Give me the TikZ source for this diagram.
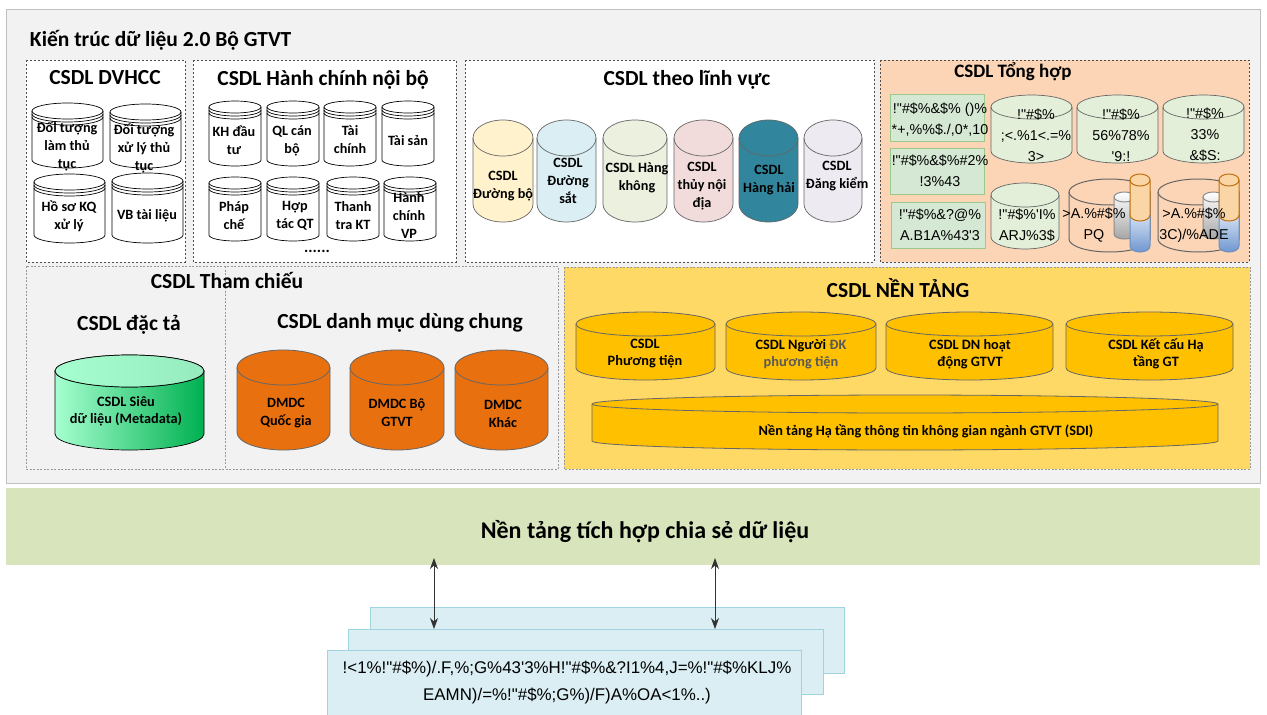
\documentclass[tikz,border=0pt]{standalone}
\usepackage{fontspec}
\setmainfont{Carlito}
\newfontfamily\garbfont{Liberation Sans}
\usetikzlibrary{arrows.meta}
\definecolor{panelgray}{HTML}{F2F2F2}
\definecolor{peach}{HTML}{FBD5B5}
\definecolor{band}{HTML}{D7E4BC}
\definecolor{softgreen}{HTML}{E3EFD9}
\definecolor{rectgreen}{HTML}{D5E8D4}
\definecolor{rectedge}{HTML}{9CC98A}
\definecolor{platform}{HTML}{FFD966}
\definecolor{gold}{HTML}{FFC000}
\definecolor{dmdc}{HTML}{E9700F}
\definecolor{stackfill}{HTML}{DAEEF3}
\definecolor{stackedge}{HTML}{9FD3E0}
\definecolor{miniorange}{HTML}{FAD5A5}
\definecolor{miniedge}{HTML}{C07010}
\definecolor{miniblue}{HTML}{6F97D0}
\definecolor{minibluee}{HTML}{6C8EBF}
\definecolor{metaL}{HTML}{A6FFD0}
\definecolor{metaM}{HTML}{70E0A0}
\definecolor{metaR}{HTML}{00B050}
\definecolor{metaT}{HTML}{96EBBE}
\tikzset{
 x=1pt,y=-1pt,
 every node/.style={inner sep=0pt,outer sep=0pt,align=center},
 dashpanel/.style={draw=black!70,line width=0.8pt,dash pattern=on 2pt off 2pt},
 lightpanel/.style={draw=black!40,line width=0.7pt,dash pattern=on 2pt off 1.5pt},
 h1/.style={font=\fontsize{21.5}{25}\selectfont\bfseries},
 h2/.style={font=\fontsize{19}{22}\selectfont\bfseries},
 lab/.style={font=\fontsize{14.2}{18}\selectfont\bfseries},
 labs/.style={font=\fontsize{14.3}{17}\selectfont\bfseries},
 garb/.style={font=\fontsize{14.3}{21}\selectfont\garbfont},
 tape/.style={draw=black,line width=0.7pt,fill=white},
 soft/.style={draw=black!60,line width=0.7pt},
 gold cyl/.style={draw=black!60,line width=0.8pt,fill=gold},
 hollow/.style={draw=black!60,line width=1pt},
 stackbox/.style={draw=stackedge,line width=0.8pt,fill=stackfill},
 greenbox/.style={draw=rectedge,line width=0.8pt,fill=rectgreen},
 link/.style={draw=black!80,line width=0.8pt,{Stealth[length=11pt,width=8pt]}-{Stealth[length=11pt,width=8pt]}},
}
\newcommand{\dbcyl}[6]{%
 \pgfmathsetmacro\cylrx{(#3-#1)/2}%
 \path[#6] (#1,#2+#5) -- (#1,#4-#5) arc[start angle=180,end angle=0,x radius=\cylrx,y radius=#5]
   -- (#3,#2+#5) arc[start angle=0,end angle=-180,x radius=\cylrx,y radius=#5] -- cycle;
 \path[#6,fill=none] (#1,#2+#5) arc[start angle=180,end angle=0,x radius=\cylrx,y radius=#5];
}
% tape cylinder: x1 y1 x2 y2 ry
\newcommand{\tapecyl}[5]{%
 \dbcyl{#1}{#2}{#3}{#4}{#5}{tape}
 \pgfmathsetmacro\cylrx{(#3-#1)/2}%
 \draw[line width=0.7pt] (#1,#2+#5+3) arc[start angle=180,end angle=0,x radius=\cylrx,y radius=#5];
 \draw[line width=0.7pt] (#1,#2+#5+6) arc[start angle=180,end angle=0,x radius=\cylrx,y radius=#5];
}
\newcommand{\minicyl}[2]{%
 \pgfmathsetmacro\gx{#1+21}\pgfmathsetmacro\tx{#2+20}%
 \path[draw=black!45,line width=1pt,top color=white,bottom color=black!35]
   (#1,197) -- (#1,234) arc[start angle=180,end angle=0,x radius=10.5,y radius=5]
   -- (\gx,197) arc[start angle=0,end angle=-180,x radius=10.5,y radius=5] -- cycle;
 \path[draw=black!45,line width=1pt,fill=none] (#1,197) arc[start angle=180,end angle=0,x radius=10.5,y radius=5];
 \path[draw=minibluee,line width=1pt,top color=white,bottom color=miniblue]
   (#2,200) -- (#2,246) arc[start angle=180,end angle=0,x radius=10,y radius=6]
   -- (\tx,200) -- cycle;
 \path[draw=miniedge,line width=1pt,fill=miniorange]
   (#2,180) -- (#2,215) arc[start angle=180,end angle=0,x radius=10,y radius=6]
   -- (\tx,180) arc[start angle=0,end angle=-180,x radius=10,y radius=6] -- cycle;
 \path[draw=miniedge,line width=1pt,fill=none] (#2,180) arc[start angle=180,end angle=0,x radius=10,y radius=6];
}
\begin{document}
\begin{tikzpicture}
\useasboundingbox (0,0) rectangle (1267,715);
\fill[white] (0,0) rectangle (1267,715);
\path[draw=black!25,line width=0.8pt,fill=panelgray] (6,9) rectangle (1260,483);
\node[anchor=west,font=\fontsize{21.5}{25}\selectfont\bfseries] (maintitle) at (30,40) {Kiến trúc dữ liệu 2.0 Bộ GTVT};

\path[dashpanel,fill=white] (26,60) rectangle (185,262);
\path[dashpanel,fill=white] (193,60) rectangle (456,262);
\path[dashpanel,fill=white] (465,60) rectangle (874,262);
\path[dashpanel,fill=peach] (880,60) rectangle (1249,262);
\node[h1] (tdv) at (105,78) {CSDL DVHCC};
\node[h1] (thc) at (323,80) {CSDL Hành chính nội bộ};
\node[h1] (tlv) at (687,80) {CSDL theo lĩnh vực};
\node[h2] (tth) at (1013,72) {CSDL Tổng hợp};

\tapecyl{32}{103}{103}{168}{8}
\tapecyl{110}{104}{181}{168}{8}
\tapecyl{34}{174}{105}{243}{8}
\tapecyl{112}{173}{183}{243}{8}
\node[lab] (d1) at (67,146) {Đối tượng\\làm thủ\\tục};
\node[lab] (d2) at (144,148) {Đối tượng\\xử lý thủ\\tục};
\node[lab] (d3) at (69,216) {Hồ sơ KQ\\xử lý};
\node[lab] (d4) at (147,216) {VB tài liệu};

\tapecyl{209}{101}{261}{166}{6}
\tapecyl{267}{101}{319}{166}{6}
\tapecyl{324}{101}{376}{166}{6}
\tapecyl{382}{101}{434}{166}{6}
\tapecyl{209}{177}{261}{241}{6}
\tapecyl{267}{177}{319}{241}{6}
\tapecyl{327}{177}{379}{241}{6}
\tapecyl{384}{177}{436}{241}{6}
\node[lab] (h1n) at (234,140) {KH đầu\\tư};
\node[lab] (h2n) at (292,141) {QL cán\\bộ};
\node[lab] (h3n) at (350,140) {Tài\\chính};
\node[lab] (h4n) at (408,141) {Tài sản};
\node[lab] (h5n) at (234,216) {Pháp\\chế};
\node[lab] (h6n) at (295,216) {Hợp\\tác QT};
\node[lab] (h7n) at (353,216) {Thanh\\tra KT};
\node[lab] (h8n) at (409,216) {Hành\\chính\\VP};
\node[font=\fontsize{16}{18}\selectfont\bfseries] (hdots) at (317,251) {......};

\dbcyl{473}{120}{533}{222}{18}{soft,fill={rgb,255:red,255;green,242;blue,204}}
\dbcyl{537}{120}{596}{222}{18}{soft,fill=stackfill}
\dbcyl{603}{120}{667}{222}{18}{soft,fill={rgb,255:red,235;green,241;blue,222}}
\dbcyl{674}{120}{733}{222}{18}{soft,fill={rgb,255:red,242;green,220;blue,219}}
\dbcyl{739}{120}{798}{222}{18}{soft,fill={rgb,255:red,49;green,133;blue,156}}
\dbcyl{804}{120}{862}{222}{18}{soft,fill={rgb,255:red,237;green,234;blue,242}}
\node[lab] (l1) at (503,186) {CSDL\\Đường bộ};
\node[lab] (l2) at (568,181) {CSDL\\Đường\\sắt};
\node[lab] (l3) at (637,178) {CSDL Hàng\\không};
\node[lab] (l4) at (702,186) {CSDL\\thủy nội\\địa};
\node[lab] (l5) at (769,180) {CSDL\\Hàng hải};
\node[lab] (l6) at (837,176) {CSDL\\Đăng kiểm};

\path[greenbox] (890,94) rectangle (984,141);
\path[greenbox] (890,148) rectangle (984,194);
\path[greenbox] (891,202) rectangle (985,248);
\dbcyl{991}{95}{1072}{163}{12}{soft,fill=softgreen}
\dbcyl{1077}{95}{1158}{163}{12}{soft,fill=softgreen}
\dbcyl{1163}{95}{1244}{163}{12}{soft,fill=softgreen}
\dbcyl{991}{183}{1059}{249}{12}{soft,fill=softgreen}
\dbcyl{1069}{179}{1150}{252}{13}{hollow}
\dbcyl{1158}{179}{1239}{252}{13}{hollow}
\minicyl{1114}{1130}
\minicyl{1203}{1219}
\node[garb] (g1) at (940,120) {!"\#\$\%\&\$\% ()\%\\*+,\%\%\$./,0*,10};
\node[garb] (g2) at (940,171) {!"\#\$\%\&\$\%\#2\%\\!3\%43};
\node[garb] (g3) at (940,225) {!"\#\$\%\&?@\%\\A.B1A\%43'3};
\node[garb] (g4) at (1036,135) {!"\#\$\%\\;<.\%1<.=\%\\3>};
\node[garb] (g5) at (1121,135) {!"\#\$\%\\56\%78\%\\'9:!};
\node[garb] (g6) at (1205,135) {!"\#\$\%\\33\%\\\&\$S:};
\node[garb] (g7) at (1027,225) {!"\#\$\%'I\%\\ARJ\%3\$};
\node[garb] (g8) at (1094,225) {>A.\%\#\$\%\\PQ};
\node[garb] (g9) at (1194,225) {>A.\%\#\$\%\\3C)/\%ADE};

\path[lightpanel,fill=panelgray] (26,266) rectangle (558,469);
\path[lightpanel] (225,266) -- (225,469);
\node[h1] (ttc) at (227,280) {CSDL Tham chiếu};
\node[h1] (tdt) at (129,325) {CSDL đặc tả};
\node[h1] (tdm) at (400,323) {CSDL danh mục dùng chung};
\dbcyl{55}{355}{204}{450}{16}{draw=black,line width=0.7pt,left color=metaL,middle color=metaM,right color=metaR}
\path[draw=black,line width=0.7pt,left color=metaL,right color=metaT] (129.5,371) circle[x radius=74.5,y radius=16];
\node[labs] (m1) at (126,411) {CSDL Siêu\\dữ liệu (Metadata)};
\dbcyl{237}{350}{330}{450}{17.5}{draw=black!60,line width=0.8pt,fill=dmdc}
\dbcyl{350}{350}{444}{450}{17.5}{draw=black!60,line width=0.8pt,fill=dmdc}
\dbcyl{455}{350}{548}{450}{17.5}{draw=black!60,line width=0.8pt,fill=dmdc}
\node[lab] (q1) at (286,413) {DMDC\\Quốc gia};
\node[lab] (q2) at (397,413) {DMDC Bộ\\GTVT};
\node[lab] (q3) at (503,414) {DMDC\\Khác};

\path[lightpanel,fill=platform] (564,267) rectangle (1250,469);
\node[h1] (tnt) at (898,288) {CSDL NỀN TẢNG};
\dbcyl{576}{312}{715}{380}{12}{gold cyl}
\dbcyl{726}{312}{876}{380}{12}{gold cyl}
\dbcyl{886}{312}{1053}{380}{12}{gold cyl}
\dbcyl{1066}{312}{1233}{380}{12}{gold cyl}
\dbcyl{592}{395}{1218}{450}{9}{gold cyl}
\node[labs] (p1) at (645,354) {CSDL\\Phương tiện};
\node[labs] (p2) at (801,354) {CSDL Người \textcolor{black!65}{ĐK}\\\textcolor{black!65}{phương tiện}};
\node[labs] (p3) at (970,354) {CSDL DN hoạt\\động GTVT};
\node[labs] (p4) at (1156,354) {CSDL Kết cấu Hạ\\tầng GT};
\node[labs] (p5) at (926,431) {Nền tảng Hạ tầng thông tin không gian ngành GTVT (SDI)};

\node[fill=band,minimum width=1254pt,minimum height=77pt,anchor=north west] (bandbox) at (6,488) {};
\node[font=\fontsize{24}{28}\selectfont\bfseries] (bandtext) at (645,532) {Nền tảng tích hợp chia sẻ dữ liệu};

\path[stackbox] (370,607) rectangle (844,673);
\path[stackbox] (348,629) rectangle (823,694);
\path[stackbox] (327,650) rectangle (801,720);
\node[font=\fontsize{16.9}{27}\selectfont\garbfont] (stacktext) at (567,682) {!<1\%!"\#\$\%)/.F,\%;G\%43'3\%H!"\#\$\%\&?I1\%4,J=\%!"\#\$\%KLJ\%\\EAMN)/=\%!"\#\$\%;G\%)/F)A\%OA<1\%..)};

\coordinate (a1t) at (434,558);
\coordinate (a1b) at (434,629);
\coordinate (a2t) at (715,558);
\coordinate (a2b) at (715,629);
\draw[link] (a1t) -- (a1b);
\draw[link] (a2t) -- (a2b);
\end{tikzpicture}
\end{document}
